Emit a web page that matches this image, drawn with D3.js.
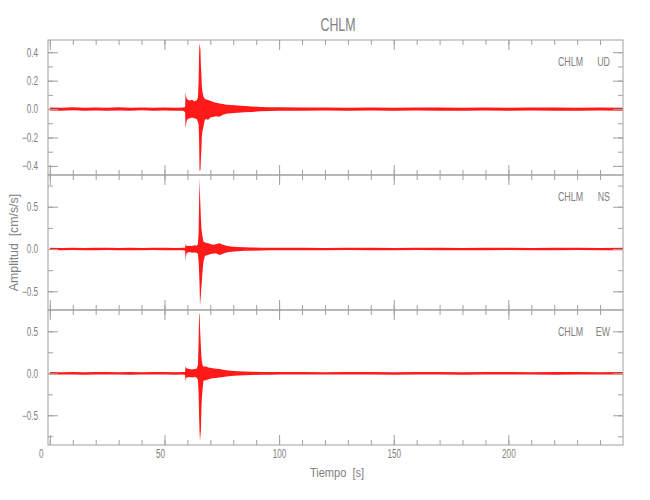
<!DOCTYPE html>
<html><head><meta charset="utf-8">
<script src="https://cdn.jsdelivr.net/npm/d3@7"></script>
<style>
html,body{margin:0;padding:0;background:#fff;}
text{font-family:"Liberation Sans",Arial,sans-serif;fill:#808080;}
</style></head>
<body><svg id="c" width="650" height="500"></svg>
<script>
// ---------- data (envelope of each trace) ----------
const title = "CHLM";
const station = "CHLM";
const components = ["UD", "NS", "EW"];
const times = [0,5,10,15,20,25,30,35,40,45,50,55,58,59,59.2,59.4,59.7,60.2,61,62,63,64,
  64.6,64.9,65.1,65.3,65.5,65.7,65.9,66.1,66.3,66.6,67,67.6,68.3,69,70,71,72.5,74,75.5,77,
  79,82,85,88,92,96,100,110,120,130,140,150,160,170,180,190,200,210,220,230,240,250];
const udUpper = [.011,.010,.012,.009,.011,.010,.012,.009,.011,.010,.011,.010,.011,.015,.12,.09,.075,.065,.06,.065,.055,.06,
  .08,.2,.39,.463,.44,.415,.30,.25,.16,.12,.088,.07,.068,.064,.058,.052,.045,.04,.035,.03,
  .028,.025,.021,.018,.015,.013,.012,.011,.011,.010,.011,.010,.011,.011,.010,.011,.010,.011,.011,.010,.011,.010];
const udLower = [-.010,-.011,-.009,-.011,-.010,-.012,-.010,-.011,-.009,-.011,-.010,-.011,-.011,-.02,-.136,-.11,-.08,-.07,-.065,-.06,-.065,-.07,
  -.09,-.11,-.22,-.437,-.43,-.43,-.35,-.29,-.195,-.15,-.124,-.075,-.07,-.077,-.06,-.055,-.05,-.054,-.04,-.033,
  -.03,-.026,-.022,-.02,-.016,-.014,-.012,-.011,-.010,-.011,-.010,-.011,-.010,-.011,-.011,-.010,-.011,-.010,-.011,-.011,-.010,-.011];
const nsUpper = [.014,.013,.015,.013,.014,.015,.013,.014,.013,.015,.014,.013,.014,.016,.06,.04,.04,.035,.04,.035,.045,.04,
  .06,.2,.56,.836,.64,.50,.36,.25,.2,.145,.086,.08,.07,.067,.06,.05,.055,.067,.05,.04,
  .03,.025,.02,.018,.016,.015,.015,.014,.013,.014,.015,.013,.014,.014,.013,.015,.014,.013,.014,.015,.013,.014];
const nsLower = [-.013,-.014,-.013,-.015,-.014,-.013,-.014,-.015,-.014,-.013,-.014,-.015,-.014,-.02,-.142,-.07,-.05,-.04,-.035,-.045,-.04,-.045,
  -.06,-.15,-.27,-.43,-.674,-.60,-.54,-.45,-.39,-.27,-.15,-.085,-.075,-.07,-.06,-.055,-.05,-.07,-.055,-.04,
  -.032,-.027,-.022,-.02,-.017,-.016,-.015,-.014,-.014,-.013,-.014,-.015,-.013,-.014,-.015,-.014,-.013,-.014,-.015,-.013,-.014,-.014];
const ewUpper = [.015,.014,.016,.014,.015,.016,.014,.015,.014,.016,.015,.014,.015,.016,.087,.07,.06,.055,.05,.045,.05,.055,
  .1,.4,.70,.714,.55,.42,.32,.2,.15,.1,.08,.08,.08,.07,.065,.06,.055,.05,.042,.035,
  .03,.025,.02,.018,.016,.015,.015,.015,.014,.015,.016,.014,.015,.015,.014,.016,.015,.014,.015,.016,.014,.015];
const ewLower = [-.014,-.015,-.014,-.016,-.015,-.014,-.015,-.016,-.015,-.014,-.015,-.016,-.015,-.02,-.1,-.06,-.05,-.048,-.045,-.05,-.045,-.05,
  -.08,-.24,-.52,-.70,-.806,-.74,-.675,-.44,-.3,-.2,-.09,-.085,-.08,-.075,-.065,-.06,-.055,-.05,-.045,-.037,
  -.032,-.026,-.022,-.02,-.017,-.016,-.015,-.015,-.015,-.014,-.015,-.016,-.014,-.015,-.016,-.015,-.014,-.015,-.016,-.014,-.015,-.015];
const yDomains = [[-0.464, 0.486], [-0.721, 0.875], [-0.854, 0.754]];
const yMajor = [[-0.4,-0.2,0,0.2,0.4], [-0.5,0,0.5], [-0.5,0,0.5]];
const yMinor = [[-0.4,-0.3,-0.2,-0.1,0,0.1,0.2,0.3,0.4], [-0.5,-0.25,0,0.25,0.5,0.75], [-0.75,-0.5,-0.25,0,0.25,0.5]];
const xMajor = [0,50,100,150,200];
const xMinor = [0,10,20,30,40,50,60,70,80,90,100,110,120,130,140,150,160,170,180,190,200,210,220,230,240];
const xDomain = [-0.8, 250];
const yLabel = "Amplitud\u00a0 [cm/s/s]";
const xLabel = "Tiempo\u00a0 [s]";

// ---------- layout ----------
const L = 48, R = 623, T0 = 40, PH = 135;
const AX = "#a0a0a0", TRACE = "#ff0000", SX = 0.68;
const svg = d3.select("#c");
const x = d3.scaleLinear().domain(xDomain).range([L, R]);
const uppers = [udUpper, nsUpper, ewUpper], lowers = [udLower, nsLower, ewLower];

svg.append("defs").selectAll("clipPath").data(components).join("clipPath")
  .attr("id", (d,i) => "clip" + i)
  .append("rect").attr("x", L).attr("y", (d,i) => T0 + i*PH).attr("width", R-L).attr("height", PH);

components.forEach((comp, i) => {
  const top = T0 + i*PH, bot = top + PH;
  const y = d3.scaleLinear().domain(yDomains[i]).range([bot, top]);
  const g = svg.append("g");
  const idx = d3.range(times.length);
  const area = d3.area()
    .x(j => x(times[j])).y0(j => y(lowers[i][j])).y1(j => y(uppers[i][j]));
  g.append("path").attr("clip-path", `url(#clip${i})`)
    .attr("d", area(idx)).attr("fill", TRACE).attr("fill-opacity", 0.9);

  const fmt = d3.format(".1f");
  const style = a => { a.select(".domain").remove(); a.selectAll("line").attr("stroke", AX); a.attr("font-family", null); };
  // left
  g.append("g").attr("transform", `translate(${L},0)`)
    .call(d3.axisLeft(y).tickValues(yMinor[i]).tickSize(-5).tickFormat("")).call(style);
  const la = g.append("g").attr("transform", `translate(${L},0)`)
    .call(d3.axisLeft(y).tickValues(yMajor[i]).tickSize(-10).tickPadding(10).tickFormat(fmt)).call(style);
  la.selectAll("text").attr("font-size", 12).attr("fill", "#808080")
    .attr("x", 0).attr("transform", `translate(-10,0) scale(${SX},1)`);
  // right
  g.append("g").attr("transform", `translate(${R},0)`)
    .call(d3.axisRight(y).tickValues(yMinor[i]).tickSize(-5).tickFormat("")).call(style);
  g.append("g").attr("transform", `translate(${R},0)`)
    .call(d3.axisRight(y).tickValues(yMajor[i]).tickSize(-10).tickFormat("")).call(style);
  // top
  g.append("g").attr("transform", `translate(0,${top})`)
    .call(d3.axisTop(x).tickValues(xMinor).tickSize(-5).tickFormat("")).call(style);
  g.append("g").attr("transform", `translate(0,${top})`)
    .call(d3.axisTop(x).tickValues(xMajor).tickSize(-10).tickFormat("")).call(style);
  // bottom
  g.append("g").attr("transform", `translate(0,${bot})`)
    .call(d3.axisBottom(x).tickValues(xMinor).tickSize(-5).tickFormat("")).call(style);
  const ba = g.append("g").attr("transform", `translate(0,${bot})`)
    .call(d3.axisBottom(x).tickValues(xMajor).tickSize(-10).tickPadding(4)
      .tickFormat(i === 2 ? d3.format("d") : "")).call(style);
  ba.selectAll("text").attr("font-size", 12).attr("fill", "#808080")
    .each(function(d) {
      const s = String(d);
      d3.select(this).attr("x", 0)
        .attr("transform", `translate(${-(3 - s.length) * 4.5},0) scale(${SX},1)`);
    });
  // box
  g.append("rect").attr("x", L).attr("y", top).attr("width", R-L).attr("height", PH)
    .attr("fill", "none").attr("stroke", AX).attr("stroke-width", 1);
  // panel label
  g.append("text").attr("text-anchor", "end").attr("font-size", 13)
    .attr("transform", `translate(583,${top+26}) scale(${SX},1)`).text(station);
  g.append("text").attr("text-anchor", "end").attr("font-size", 13)
    .attr("transform", `translate(610,${top+26}) scale(${SX},1)`).text(comp);
});

svg.append("text").attr("text-anchor", "middle").attr("font-size", 19)
  .attr("transform", `translate(338,31) scale(0.65,1)`).text(title);
svg.append("text").attr("text-anchor", "middle").attr("font-size", 13)
  .attr("transform", `translate(337,477) scale(0.85,1)`).text(xLabel);
svg.append("text").attr("text-anchor", "middle").attr("font-size", 13)
  .attr("transform", `translate(18,242.5) rotate(-90) scale(0.95,1)`).text(yLabel);
</script></body></html>
